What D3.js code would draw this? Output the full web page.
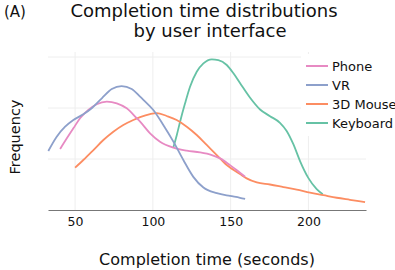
<!DOCTYPE html>
<html><head><meta charset="utf-8">
<script src="https://cdn.jsdelivr.net/npm/d3@7/dist/d3.min.js"></script>
<style>body{margin:0;background:#fff}svg{display:block}text{font-family:"DejaVu Sans",sans-serif;fill:#111}</style>
</head><body><svg id="c" width="395" height="270"></svg>
<script>
const seriesNames = ["Phone", "VR", "3D Mouse", "Keyboard"];
const colors = ["#e78ac3", "#8da0cb", "#fc8d62", "#66c2a5"];
const xTicks = [50, 100, 150, 200];
const yGrid = [0, 1, 2, 3];
const phoneX = [40.4,44.7,48.9,53.2,58.5,63.9,70.4,76.8,83.2,89.7,91.8,98.2,104.6,113.2,121.8,130.3,137.9,143.2,149.6,156.0,159.3];
const phoneY = [1.196,1.405,1.601,1.798,1.961,2.073,2.124,2.092,1.994,1.798,1.732,1.503,1.339,1.222,1.163,1.131,1.078,1.013,0.88,0.73,0.653];
const vrX = [32.8,38.2,43.6,48.9,55.3,60.7,67.2,73.6,79.9,86.4,91.8,93.9,100.3,106.7,113.2,119.6,126.0,132.5,141.1,149.6,156.0,159.3];
const vrY = [1.157,1.437,1.633,1.765,1.876,1.994,2.19,2.373,2.43,2.373,2.222,2.16,1.96,1.667,1.34,0.98,0.65,0.44,0.33,0.275,0.24,0.216];
const mouseX = [50,55.3,61.8,68.2,74.6,81.0,87.5,91.8,98.2,102.5,108.9,115.3,121.8,128.2,134.6,141.1,147.5,156.0,160.3,166.8,175.3,183.9,192.5,201.0,209.6,218.2,226.7,236.4];
const mouseY = [0.83,0.98,1.176,1.373,1.535,1.667,1.765,1.82,1.88,1.9,1.843,1.765,1.634,1.471,1.275,1.078,0.882,0.706,0.62,0.54,0.50,0.45,0.40,0.34,0.29,0.24,0.20,0.155];
const keyX = [113.2,115.4,117.5,120.7,123.9,128.2,132.5,137.9,142.1,147.5,151.8,156.0,162.5,168.9,175.3,181.7,186.0,190.3,194.6,199.9,205.3,209.2];
const keyY = [1.229,1.471,1.732,2.092,2.418,2.712,2.876,2.955,2.941,2.843,2.68,2.49,2.2,1.97,1.84,1.71,1.55,1.29,0.96,0.63,0.41,0.31];

const seriesX = [phoneX, vrX, mouseX, keyX];
const seriesY = [phoneY, vrY, mouseY, keyY];
const drawOrder = [3, 2, 0, 1];

const svg = d3.select("#c");
const L = 48, R = 366, B = 210, T = 52;
const x = d3.scaleLinear().domain([32.6, 237]).range([L, R]);
const y = d3.scaleLinear().domain([0, 3.1]).range([B, B - 3.1 * 51]);

// grid
const g = svg.append("g");
g.selectAll(".vg").data(xTicks).join("line")
  .attr("x1", d => x(d)).attr("x2", d => x(d)).attr("y1", T).attr("y2", B)
  .attr("stroke", "#eeeeee").attr("stroke-width", 1);
g.selectAll(".hg").data(yGrid.filter(d => d > 0)).join("line")
  .attr("x1", L).attr("x2", R).attr("y1", d => y(d)).attr("y2", d => y(d))
  .attr("stroke", "#eeeeee").attr("stroke-width", 1);

// x axis
const xa = svg.append("g").attr("transform", `translate(0,${B})`)
  .call(d3.axisBottom(x).tickValues(xTicks).tickSize(0).tickPadding(7));
xa.select(".domain").attr("stroke", "#777").attr("stroke-width", 1.2);
xa.selectAll("text").style("font-family", "DejaVu Sans").style("font-size", "12.5px").attr("fill", "#222");

// lines
const line = d3.line().curve(d3.curveMonotoneX);
drawOrder.forEach(i => {
  const pts = seriesX[i].map((v, k) => [x(v), y(seriesY[i][k])]);
  svg.append("path").attr("d", line(pts)).attr("fill", "none")
    .attr("stroke", colors[i]).attr("stroke-width", 1.8);
});

// legend
const lg = svg.append("g");
lg.append("rect").attr("x", 301).attr("y", 54).attr("width", 94).attr("height", 82).attr("fill", "#fff");
seriesNames.forEach((n, i) => {
  const yy = 66 + i * 19;
  lg.append("line").attr("x1", 306).attr("x2", 328).attr("y1", yy).attr("y2", yy)
    .attr("stroke", colors[i]).attr("stroke-width", 2);
  lg.append("text").attr("x", 332).attr("y", yy + 4.5).style("font-size", "13px").text(n);
});

// titles
svg.append("text").attr("x", 204).attr("y", 17).attr("text-anchor", "middle").style("font-size", "18px").text("Completion time distributions");
svg.append("text").attr("x", 210).attr("y", 37).attr("text-anchor", "middle").style("font-size", "18px").text("by user interface");
svg.append("text").attr("x", 4).attr("y", 17).style("font-size", "15px").text("(A)");
svg.append("text").attr("x", 207).attr("y", 265).attr("text-anchor", "middle").style("font-size", "16px").text("Completion time (seconds)");
svg.append("text").attr("transform", "translate(20,137) rotate(-90)").attr("text-anchor", "middle").style("font-size", "14.5px").text("Frequency");
</script></body></html>
